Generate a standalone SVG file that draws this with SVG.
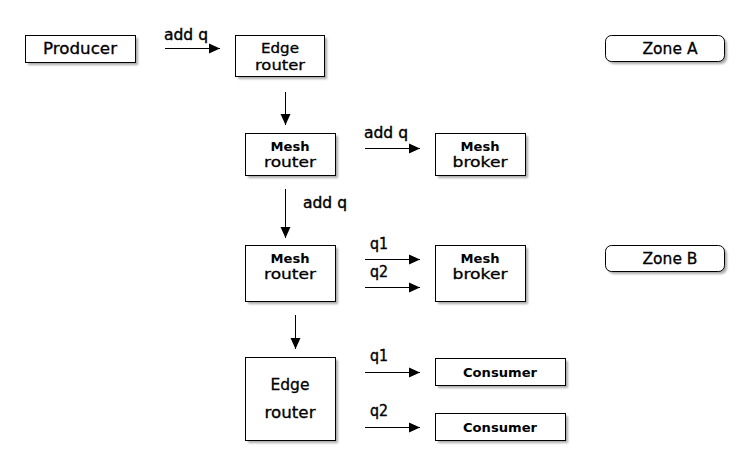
<svg xmlns="http://www.w3.org/2000/svg" width="750" height="476" viewBox="0 0 750 476">
<style>
.box{fill:#fff;stroke:#000;stroke-width:1}
.sh{fill:#888;opacity:0.7;filter:url(#blur)}
.t{font-family:"DejaVu Sans",sans-serif;font-size:15.5px;fill:#000;stroke:#000;stroke-width:0.3;text-anchor:middle}
.t2{font-family:"DejaVu Sans",sans-serif;font-size:14.5px;fill:#000;stroke:#000;stroke-width:0.3;text-anchor:middle}
.b{font-family:"DejaVu Sans",sans-serif;font-size:12px;font-weight:bold;fill:#000;text-anchor:middle}
.lbl{font-family:"DejaVu Sans",sans-serif;font-size:15px;fill:#000;stroke:#000;stroke-width:0.4}
.ln{stroke:#000;stroke-width:1;fill:none;marker-end:url(#ah)}
</style>
<defs>
<filter id="blur" x="-10%" y="-10%" width="130%" height="130%"><feGaussianBlur stdDeviation="1"/></filter>
<marker id="ah" markerUnits="userSpaceOnUse" markerWidth="12" markerHeight="12" refX="11" refY="6" orient="auto"><path d="M0,1 L11,6 L0,11 Z" fill="#000"/></marker>
</defs>
<rect width="750" height="476" fill="#fff"/>
<g id="producer"><rect class="sh" x="28" y="38" width="110" height="27"/><rect class="box" x="25.5" y="35.5" width="110" height="27"/><text class="t" x="80" y="54" textLength="74" lengthAdjust="spacingAndGlyphs">Producer</text></g>
<g id="edge1"><rect class="sh" x="238" y="38" width="89" height="41"/><rect class="box" x="235.5" y="35.5" width="89" height="41"/><text class="t2" x="280" y="53" textLength="38" lengthAdjust="spacingAndGlyphs">Edge</text><text class="t2" x="280" y="70" textLength="50" lengthAdjust="spacingAndGlyphs">router</text></g>
<g id="mesh1"><rect class="sh" x="248" y="136" width="90" height="42"/><rect class="box" x="245.5" y="133.5" width="90" height="42"/><text class="b" x="290" y="150.5" textLength="39" lengthAdjust="spacingAndGlyphs">Mesh</text><text class="t2" x="290" y="167" textLength="52" lengthAdjust="spacingAndGlyphs">router</text></g>
<g id="broker1"><rect class="sh" x="438" y="136" width="90" height="42"/><rect class="box" x="435.5" y="133.5" width="90" height="42"/><text class="b" x="480" y="150.5" textLength="39" lengthAdjust="spacingAndGlyphs">Mesh</text><text class="t2" x="480" y="167" textLength="55" lengthAdjust="spacingAndGlyphs">broker</text></g>
<g id="mesh2"><rect class="sh" x="248" y="248" width="90" height="56"/><rect class="box" x="245.5" y="245.5" width="90" height="56"/><text class="b" x="290" y="262.5" textLength="39" lengthAdjust="spacingAndGlyphs">Mesh</text><text class="t2" x="290" y="279" textLength="52" lengthAdjust="spacingAndGlyphs">router</text></g>
<g id="broker2"><rect class="sh" x="438" y="248" width="90" height="56"/><rect class="box" x="435.5" y="245.5" width="90" height="56"/><text class="b" x="480" y="262.5" textLength="39" lengthAdjust="spacingAndGlyphs">Mesh</text><text class="t2" x="480" y="279" textLength="55" lengthAdjust="spacingAndGlyphs">broker</text></g>
<g id="edge2"><rect class="sh" x="248" y="360" width="90" height="83"/><rect class="box" x="245.5" y="357.5" width="90" height="83"/><text class="t" x="290" y="390" textLength="39" lengthAdjust="spacingAndGlyphs">Edge</text><text class="t" x="290" y="418" textLength="51" lengthAdjust="spacingAndGlyphs">router</text></g>
<g id="consumer1"><rect class="sh" x="438" y="361" width="130" height="27"/><rect class="box" x="435.5" y="358.5" width="130" height="27"/><text class="b" x="500" y="376.5" textLength="74" lengthAdjust="spacingAndGlyphs">Consumer</text></g>
<g id="consumer2"><rect class="sh" x="438" y="416" width="130" height="27"/><rect class="box" x="435.5" y="413.5" width="130" height="27"/><text class="b" x="500" y="432" textLength="74" lengthAdjust="spacingAndGlyphs">Consumer</text></g>
<g id="zoneA"><rect class="sh" x="608" y="38" width="119" height="26" rx="6"/><rect class="box" x="605.5" y="35.5" width="119" height="26" rx="6"/><text class="t" x="670" y="54" textLength="55" lengthAdjust="spacingAndGlyphs">Zone A</text></g>
<g id="zoneB"><rect class="sh" x="608" y="248" width="119" height="26" rx="6"/><rect class="box" x="605.5" y="245.5" width="119" height="26" rx="6"/><text class="t" x="670" y="264" textLength="55" lengthAdjust="spacingAndGlyphs">Zone B</text></g>
<g id="connectors">
<line class="ln" x1="165" y1="48.5" x2="220" y2="48.5"/>
<text class="lbl" x="164" y="40" textLength="44" lengthAdjust="spacingAndGlyphs">add q</text>
<line class="ln" x1="285.5" y1="92" x2="285.5" y2="125"/>
<line class="ln" x1="365" y1="148.5" x2="420" y2="148.5"/>
<text class="lbl" x="364" y="138" textLength="44" lengthAdjust="spacingAndGlyphs">add q</text>
<line class="ln" x1="285.5" y1="189" x2="285.5" y2="238"/>
<text class="lbl" x="303" y="208" textLength="44" lengthAdjust="spacingAndGlyphs">add q</text>
<line class="ln" x1="365" y1="259.5" x2="420" y2="259.5"/>
<text class="lbl" x="370" y="249" textLength="18" lengthAdjust="spacingAndGlyphs">q1</text>
<line class="ln" x1="365" y1="287.5" x2="420" y2="287.5"/>
<text class="lbl" x="370" y="277" textLength="18" lengthAdjust="spacingAndGlyphs">q2</text>
<line class="ln" x1="295.5" y1="315" x2="295.5" y2="349"/>
<line class="ln" x1="365" y1="372.5" x2="420" y2="372.5"/>
<text class="lbl" x="370" y="361" textLength="18" lengthAdjust="spacingAndGlyphs">q1</text>
<line class="ln" x1="365" y1="427.5" x2="420" y2="427.5"/>
<text class="lbl" x="370" y="416" textLength="18" lengthAdjust="spacingAndGlyphs">q2</text>
</g>
</svg>
